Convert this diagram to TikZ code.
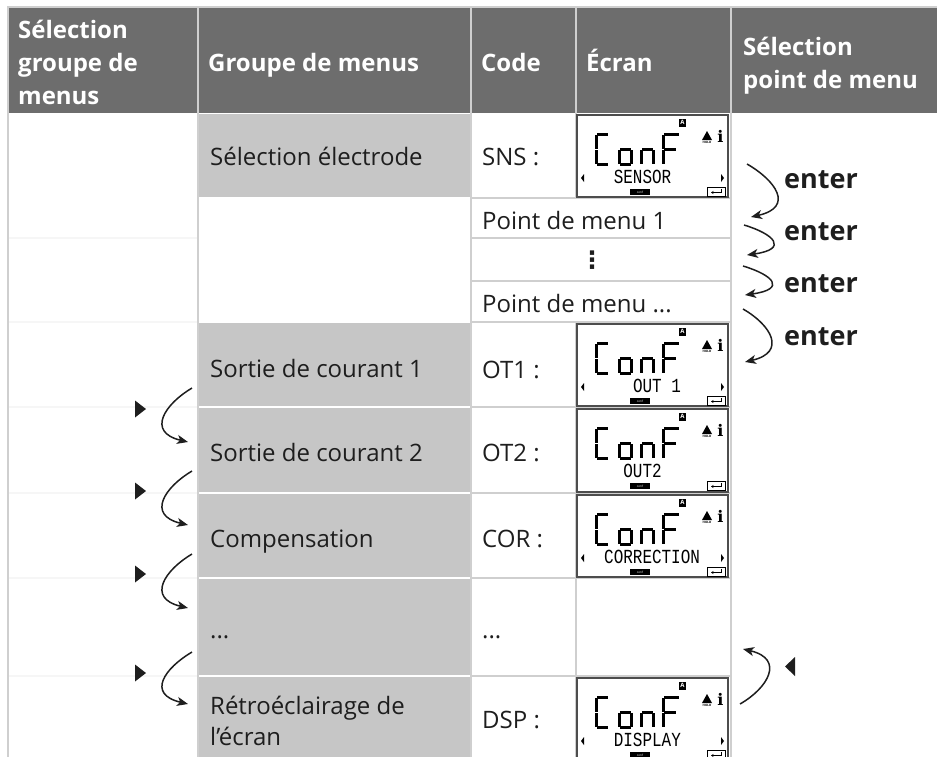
\documentclass[tikz,border=0pt]{standalone}
\usepackage{fontspec}
\setmainfont{Open Sans}
\newfontfamily\lcdmono{Liberation Mono}
\newfontfamily\lcdserif{DejaVu Serif}
\newfontfamily\symfont{DejaVu Sans}
\usetikzlibrary{arrows.meta}
\definecolor{hdr}{HTML}{6D6D6D}
\definecolor{cellgray}{HTML}{C6C6C6}
\definecolor{gridgray}{HTML}{CFCFCF}
\definecolor{faint}{HTML}{F6F6F6}
\definecolor{lcdframe}{HTML}{4D4D4D}
\definecolor{ink}{HTML}{1E1E1E}
\tikzset{
  hdrtext/.style={text=white, font=\bfseries\fontsize{24}{33}\selectfont, anchor=base west, inner sep=0pt},
  bodytext/.style={text=ink, font=\fontsize{24}{31}\selectfont, anchor=base west, inner sep=0pt},
  entertext/.style={text=ink, font=\bfseries\fontsize{27}{27}\selectfont, anchor=base west, inner sep=0pt},
  gridline/.style={draw=gridgray, line width=2pt},
  faintline/.style={draw=faint, line width=1.2pt},
  sepline/.style={draw=white, line width=2.5pt},
  curvearrow/.style={draw=ink, line width=1.5pt, -{Stealth[length=11pt,width=9pt,inset=3pt]}},
  seg/.style={draw=black, line width=3.2pt},
  pics/lcdscreen/.style n args={4}{code={
    \draw[draw=lcdframe, line width=1.6pt, fill=white] (0,0) rectangle (151,#3);
    \begin{scope}[shift={(18,18)}]
      \draw[seg] (12.8,1.6)--(2.2,1.6) (1.6,2.2)--(1.6,15.8) (1.6,17.2)--(1.6,30.8) (2.2,31.4)--(12.8,31.4);
    \end{scope}
    \begin{scope}[shift={(41,18)}]
      \draw[seg] (2.2,16.5)--(12.8,16.5) (13.4,17.2)--(13.4,30.8) (2.2,31.4)--(12.8,31.4) (1.6,17.2)--(1.6,30.8);
    \end{scope}
    \begin{scope}[shift={(63,18)}]
      \draw[seg] (2.2,16.5)--(12.8,16.5) (13.4,17.2)--(13.4,30.8) (1.6,17.2)--(1.6,30.8);
    \end{scope}
    \begin{scope}[shift={(85,18)}]
      \draw[seg] (2.2,1.6)--(17,1.6) (1.6,2.2)--(1.6,15.8) (1.6,17.2)--(1.6,30.8) (2.2,16.5)--(13.5,16.5);
    \end{scope}
    \node[fill=black, text=white, font=\bfseries\fontsize{6}{6}\selectfont, inner sep=0pt, minimum width=7pt, minimum height=8pt] (-mode) at (105.5,7.5) {A};
    \fill (125,25) -- (130,16) -- (135,25) -- cycle;
    \node[font=\bfseries\fontsize{3}{3}\selectfont, inner sep=0pt] (-hold) at (130,27.5) {HOLD};
    \node[font=\lcdserif\bfseries\fontsize{16}{16}\selectfont, inner sep=0pt] (-info) at (143.5,21) {i};
    \node[font=\lcdmono\fontsize{19}{19}\selectfont, inner sep=0pt, anchor=west] (-sub) at (#4,62) {\scalebox{0.84}[1.05]{#1}};
    \ifnum#2=1
      \fill (4,63) -- (7,59) -- (7,67) -- cycle;
      \fill (147,63) -- (144,59) -- (144,67) -- cycle;
    \fi
    \node[fill=black, text=white, font=\fontsize{3}{3}\selectfont, inner sep=0pt, minimum width=20pt, minimum height=6pt] (-conf) at (63,77) {conf};
    \draw[line width=0.9pt] (130,72) rectangle (148,81);
    \draw[line width=0.9pt, -{Stealth[length=2.5pt,width=3pt]}] (144,74) -- (144,77.5) -- (134,77.5);
  }}
}
\begin{document}
\begin{tikzpicture}[x=1pt,y=-1pt]
\useasboundingbox (0,0) rectangle (937,756);
\clip (0,0) rectangle (937,756);
% header
\fill[hdr] (8,8) rectangle (937,113);
\draw[gridline] (7,7) -- (937,7);
% gray cells
\fill[cellgray] (199,114) rectangle (470,197);
\fill[cellgray] (199,323) rectangle (470,760);
\foreach \yy in {407,493,578,676} \draw[sepline] (199,\yy) -- (470,\yy);
% faint lines in first column
\foreach \yy in {238,322,407,493,578,676} \draw[faintline] (9,\yy) -- (197,\yy);
% grid lines in code / screen columns
\foreach \yy in {198,238,281,322,407,493,578,676} \draw[gridline] (471,\yy) -- (731,\yy);
\draw[gridline] (8,7) -- (8,760);
\draw[gridline] (198,7) -- (198,760);
\draw[gridline] (471,7) -- (471,760);
\draw[gridline] (576,7) -- (576,198);
\draw[gridline] (576,322) -- (576,760);
\draw[gridline] (731,7) -- (731,760);
% header texts
\node[hdrtext] (h1a) at (18,38) {Sélection};
\node[hdrtext] (h1b) at (18,71) {groupe de};
\node[hdrtext] (h1c) at (18,104) {menus};
\node[hdrtext] (h2) at (208,71) {Groupe de menus};
\node[hdrtext] (h3) at (481,71) {Code};
\node[hdrtext] (h4) at (586,71) {Écran};
\node[hdrtext] (h5a) at (743,55) {Sélection};
\node[hdrtext] (h5b) at (743,88) {point de menu};
% group texts
\node[bodytext] (g1) at (210,165) {Sélection électrode};
\node[bodytext] (g2) at (210,377) {Sortie de courant 1};
\node[bodytext] (g3) at (210,461) {Sortie de courant 2};
\node[bodytext] (g4) at (210,547) {Compensation};
\node[bodytext] (g5) at (210,638) {...};
\node[bodytext] (g6a) at (210,714) {Rétroéclairage de};
\node[bodytext] (g6b) at (210,745) {l’écran};
% codes
\node[bodytext] (c1) at (482,165) {SNS :};
\node[bodytext] (c2) at (482,378) {OT1 :};
\node[bodytext] (c3) at (482,461) {OT2 :};
\node[bodytext] (c4) at (482,547) {COR :};
\node[bodytext] (c5) at (482,638) {...};
\node[bodytext] (c6) at (482,728) {DSP :};
% menu points
\node[bodytext] (p1) at (482,229) {Point de menu 1};
\node[text=ink, font=\symfont\bfseries\fontsize{24}{24}\selectfont, inner sep=0pt] (p2) at (592,260) {⋮};
\node[bodytext] (p3) at (482,312) {Point de menu ...};
% screens
\pic (lcdA) at (577,115) {lcdscreen={SENSOR}{1}{82}{36.6}};
\pic (lcdB) at (577,324) {lcdscreen={OUT 1}{1}{82}{55.8}};
\pic (lcdC) at (577,409) {lcdscreen={OUT2}{0}{83}{46.2}};
\pic (lcdD) at (577,495) {lcdscreen={CORRECTION}{1}{82}{27}};
\pic (lcdE) at (577,678) {lcdscreen={DISPLAY}{1}{83}{36.6}};
% enter labels
\node[entertext] (e1) at (784,188) {enter};
\node[entertext] (e2) at (784,240) {enter};
\node[entertext] (e3) at (784,292) {enter};
\node[entertext] (e4) at (784,345) {enter};
% right arrows
\coordinate (ra1s) at (747,164); \coordinate (ra1e) at (751,217);
\coordinate (ra2s) at (744,225); \coordinate (ra2e) at (747,255);
\coordinate (ra3s) at (743,266); \coordinate (ra3e) at (745,295);
\coordinate (ra4s) at (743,309); \coordinate (ra4e) at (745,362);
\draw[curvearrow] (ra1s) .. controls +(28,16) and +(44,-10) .. (ra1e);
\draw[curvearrow] (ra2s) .. controls +(30,9) and +(42,-6) .. (ra2e);
\draw[curvearrow] (ra3s) .. controls +(30,9) and +(42,-6) .. (ra3e);
\draw[curvearrow] (ra4s) .. controls +(28,16) and +(42,-10) .. (ra4e);
% back arrow
\coordinate (bas) at (740,704); \coordinate (bae) at (743,649);
\draw[curvearrow] (bas) .. controls +(28,-16) and +(42,10) .. (bae);
\fill[ink] (795,657) -- (785,666.5) -- (795,676) -- cycle;
% left arrows
\coordinate (la1s) at (192,388); \coordinate (la1e) at (188,442);
\coordinate (la2s) at (192,471); \coordinate (la2e) at (188,525);
\coordinate (la3s) at (192,554); \coordinate (la3e) at (188,608);
\coordinate (la4s) at (192,652); \coordinate (la4e) at (188,704);
\foreach \i in {1,2,3,4}
  \draw[curvearrow] (la\i s) .. controls +(-27,16) and +(-42,-10) .. (la\i e);
\foreach \yy in {409,491,574,673}
  \fill[ink] (135,\yy-8.5) -- (146,\yy) -- (135,\yy+8.5) -- cycle;
\end{tikzpicture}
\end{document}
